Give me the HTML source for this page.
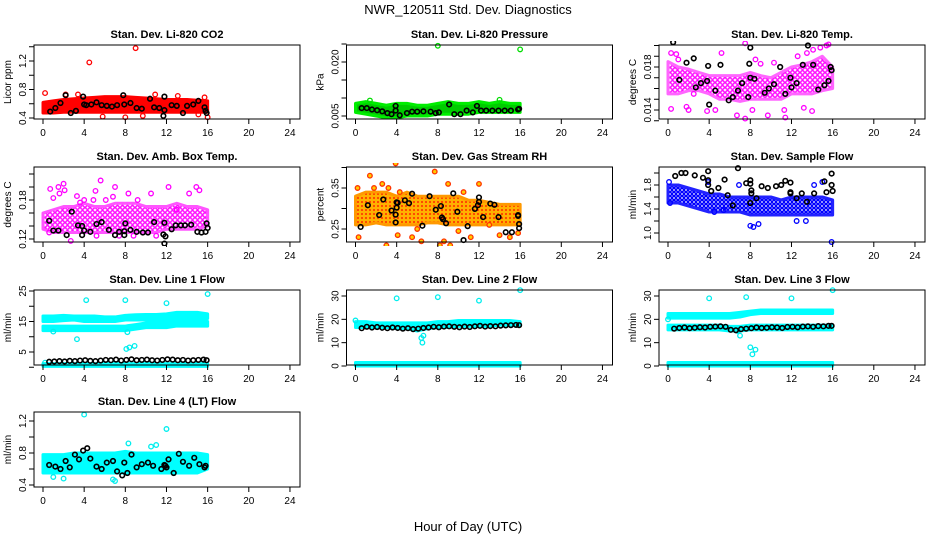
<!DOCTYPE html>
<html><head><meta charset="utf-8">
<style>
html,body{margin:0;padding:0;background:#fff;}
svg{display:block;font-family:"Liberation Sans",Arial,sans-serif;}
</style></head>
<body>
<svg id="chart" width="936" height="540" viewBox="0 0 936 540">
<defs>
<pattern id="patMag" width="5" height="5" patternUnits="userSpaceOnUse"><rect width="5" height="5" fill="#fff"/><circle cx="2.5" cy="2.5" r="1.8" fill="none" stroke="#ff00ff" stroke-width="1.4"/></pattern>
<pattern id="patBlue" width="4" height="4" patternUnits="userSpaceOnUse"><rect width="4" height="4" fill="#fff"/><circle cx="2" cy="2" r="1.6" fill="none" stroke="#0000ff" stroke-width="1.4"/></pattern>
<pattern id="patRH" width="4" height="4" patternUnits="userSpaceOnUse"><rect width="4" height="4" fill="#ffb000"/><circle cx="2" cy="2" r="0.9" fill="#ff0000"/></pattern>
</defs>
<text x="468" y="14" text-anchor="middle" font-size="13">NWR_120511  Std. Dev. Diagnostics</text>
<text x="468" y="531" text-anchor="middle" font-size="13">Hour of Day (UTC)</text>
</svg>
<script>
const bandHours=[0,1,2,3,4,5,6,7,8,9,10,11,12,13,14,15,16];
const xTicks=[0,4,8,12,16,20,24];
const lineBlackH=[0.6,1.1,1.6,2.1,2.6,3.1,3.6,4.1,4.6,5.1,5.6,6.1,6.6,7.1,7.6,8.1,8.6,9.1,9.6,10.1,10.6,11.1,11.6,12.1,12.6,13.1,13.6,14.1,14.6,15.1,15.6,15.9];

const co2Lo=[0.47,0.47,0.48,0.48,0.48,0.48,0.48,0.48,0.48,0.48,0.48,0.48,0.48,0.48,0.48,0.48,0.48];
const co2Hi=[0.62,0.64,0.66,0.67,0.68,0.69,0.70,0.70,0.70,0.69,0.68,0.67,0.66,0.66,0.66,0.65,0.64];
const co2Red=[[0.2,0.75],[4.5,1.18],[9,1.38],[5.8,0.42],[8,0.41],[9.7,0.43],[15.1,0.45],[16,0.41],[10.9,0.73],[2.2,0.73],[3.4,0.73],[13.1,0.71],[15.7,0.69]];
const co2Black=[[0.7,0.49],[1.2,0.54],[1.7,0.61],[2.2,0.72],[2.7,0.47],[3.2,0.50],[3.9,0.70],[4,0.59],[4.2,0.58],[4.7,0.59],[5.2,0.62],[5.7,0.58],[6.2,0.57],[6.7,0.56],[7.2,0.58],[7.8,0.72],[7.9,0.59],[8.5,0.61],[9.1,0.54],[9.6,0.53],[10.4,0.67],[10.8,0.55],[11.3,0.54],[11.7,0.43],[11.8,0.70],[11.8,0.51],[12.5,0.58],[13,0.57],[13.6,0.47],[14,0.57],[14.6,0.59],[15.1,0.64],[15.7,0.55],[15.8,0.50],[15.9,0.47]];

const presLo=[0.006,0.0055,0.005,0.0045,0.0045,0.005,0.005,0.005,0.0055,0.0055,0.0055,0.0055,0.006,0.006,0.006,0.006,0.006];
const presHi=[0.0085,0.009,0.0085,0.008,0.0085,0.0085,0.008,0.008,0.0085,0.009,0.0085,0.0085,0.009,0.0085,0.009,0.0085,0.0085];
const presGreen=[[8,0.0245],[16,0.0235],[14,0.0095],[1.4,0.0093]];
const presBlack=[[0.6,0.0072],[1.1,0.0072],[1.6,0.0068],[2.1,0.0066],[2.6,0.0063],[3.1,0.0058],[3.5,0.0055],[3.9,0.0078],[3.9,0.0065],[4.3,0.0052],[5,0.0058],[5.5,0.0062],[6,0.0062],[6.6,0.0063],[7.3,0.0062],[7.8,0.0058],[8.1,0.006],[9.1,0.0082],[9.6,0.0055],[10.2,0.0055],[10.8,0.0065],[11.4,0.006],[11.8,0.0078],[12.2,0.0065],[12.7,0.0065],[13.3,0.0065],[13.9,0.0065],[14.5,0.0065],[15.1,0.0065],[15.8,0.0068],[15.9,0.007]];

const tempLo=[0.0155,0.0155,0.0158,0.0158,0.0155,0.0150,0.0150,0.0148,0.0150,0.0150,0.0150,0.0150,0.0155,0.0155,0.0155,0.0158,0.0160];
const tempHi=[0.0185,0.0180,0.0178,0.0175,0.0172,0.0172,0.0172,0.0172,0.0175,0.0172,0.0170,0.0175,0.0180,0.0182,0.0185,0.0190,0.0180];
const tempMag=[[0.3,0.0193],[0.3,0.0141],[0.8,0.0192],[1.8,0.0143],[2,0.0140],[2.5,0.0155],[3.8,0.0139],[4.6,0.0140],[5.2,0.0193],[6.7,0.0135],[7.5,0.0132],[7.5,0.0202],[8.2,0.0140],[9,0.0183],[9.7,0.0135],[10.3,0.0184],[11.4,0.0133],[11.3,0.0140],[12.6,0.0190],[13.5,0.0193],[14.1,0.0196],[14.8,0.0198],[15.4,0.0200],[15.6,0.0201],[13.2,0.0142],[14,0.0139],[8.5,0.0187],[1,0.0187]];
const tempBlack=[[0.5,0.0203],[1.1,0.0168],[1.8,0.0184],[2.5,0.0188],[2.7,0.0161],[3.2,0.0165],[3.8,0.0167],[3.9,0.0181],[4,0.0145],[4.6,0.0158],[5.1,0.0182],[5.9,0.0149],[6.3,0.0152],[6.8,0.0158],[7.2,0.0165],[7.8,0.0152],[7.9,0.0183],[8,0.0198],[8,0.0170],[8.4,0.0169],[9.4,0.0156],[9.8,0.0160],[10.3,0.0164],[10.9,0.0180],[11.4,0.0155],[11.9,0.0170],[12,0.0161],[12.5,0.0165],[13.1,0.0182],[13.6,0.0200],[14.1,0.0182],[14.6,0.0159],[15.2,0.0163],[15.6,0.0167],[15.8,0.0180],[15.9,0.0177]];

const ambLo=[0.135,0.13,0.13,0.13,0.13,0.13,0.13,0.13,0.13,0.13,0.13,0.13,0.135,0.135,0.135,0.135,0.14];
const ambHi=[0.16,0.165,0.17,0.17,0.175,0.17,0.17,0.175,0.175,0.175,0.17,0.17,0.17,0.175,0.17,0.17,0.165];
const ambMag=[[0.7,0.197],[1,0.183],[0.6,0.13],[1.5,0.20],[1.6,0.19],[2,0.205],[2.1,0.195],[2.7,0.117],[3.3,0.186],[3.6,0.176],[4,0.18],[5.1,0.194],[5.2,0.125],[5.6,0.21],[6.1,0.18],[7,0.20],[7.4,0.125],[8.3,0.19],[8.8,0.125],[9.2,0.18],[10.5,0.19],[11,0.125],[12.2,0.20],[13,0.165],[14.2,0.19],[14.9,0.2],[15.2,0.195],[4.9,0.18],[6.8,0.185]];
const ambBlack=[[0.6,0.148],[1,0.133],[1.5,0.133],[2.3,0.126],[2.8,0.162],[3.4,0.141],[3.8,0.140],[3.8,0.126],[4,0.133],[4.6,0.131],[5.2,0.143],[5.7,0.146],[6.4,0.134],[7,0.126],[7.4,0.131],[7.9,0.126],[7.9,0.132],[8,0.144],[8.5,0.134],[9.1,0.131],[9.7,0.130],[10.2,0.130],[10.8,0.146],[11.7,0.127],[11.8,0.113],[11.9,0.124],[11.8,0.145],[12.5,0.135],[12.9,0.141],[13.4,0.141],[13.8,0.141],[14.4,0.142],[15,0.131],[15.4,0.130],[15.8,0.131],[15.9,0.144],[16,0.137]];

const rhLo=[0.26,0.26,0.265,0.26,0.26,0.26,0.26,0.265,0.265,0.26,0.26,0.26,0.26,0.26,0.26,0.26,0.26];
const rhHi=[0.33,0.34,0.34,0.34,0.33,0.34,0.33,0.33,0.33,0.33,0.33,0.32,0.32,0.315,0.31,0.31,0.31];
const rhOrange=[[0.2,0.35],[0.3,0.23],[1.4,0.38],[1.8,0.35],[2.6,0.36],[3.2,0.35],[3.9,0.41],[4.3,0.34],[4.1,0.235],[5.5,0.23],[6.4,0.22],[7.7,0.39],[8.2,0.21],[9,0.36],[8.6,0.22],[9.2,0.21],[10.5,0.34],[11.2,0.23],[12,0.36],[13,0.26],[15,0.23],[15.8,0.24],[3,0.21],[6,0.25],[10,0.245],[14,0.235]];
const rhBlack=[[0.5,0.255],[1.2,0.308],[2.3,0.284],[2.7,0.322],[3.5,0.295],[3.9,0.285],[3.9,0.266],[4.0,0.302],[4.0,0.315],[4.1,0.314],[4.8,0.320],[5.2,0.313],[5.5,0.336],[6.5,0.258],[7.2,0.330],[7.8,0.297],[8.3,0.306],[8.4,0.278],[8.5,0.274],[8.8,0.264],[9.5,0.337],[9.9,0.292],[10.5,0.223],[10.9,0.257],[11.6,0.299],[11.9,0.308],[12.0,0.327],[12.0,0.316],[12.4,0.279],[13.1,0.312],[13.5,0.309],[13.9,0.279],[14.6,0.242],[15.2,0.242],[15.8,0.282],[15.9,0.262],[15.9,0.252],[15.8,0.284]];

const flowLo=[1.5,1.5,1.45,1.4,1.35,1.35,1.35,1.35,1.3,1.3,1.3,1.3,1.3,1.3,1.3,1.3,1.3];
const flowHi=[1.8,1.8,1.75,1.7,1.65,1.65,1.6,1.6,1.6,1.6,1.6,1.55,1.6,1.6,1.6,1.6,1.55];
const flowBlue=[[0.1,1.85],[0.2,1.5],[8,1.12],[8.3,1.1],[8.8,1.15],[12.5,1.2],[13.4,1.2],[15.9,0.85],[4.5,1.35],[14.2,1.8],[15,1.85],[6.9,1.8],[3.9,1.85],[5.4,1.38]];
const flowBlack=[[0.7,1.95],[1.3,2.0],[1.7,2.0],[2.6,1.96],[3.4,1.92],[3.9,2.03],[3.9,1.88],[3.9,1.80],[4.9,1.75],[5.5,1.89],[5.8,1.63],[6.8,2.08],[7.6,1.83],[8,1.88],[8,1.82],[8.1,1.71],[8,1.5],[8.1,1.66],[8.6,1.58],[9.1,1.78],[9.7,1.75],[10.5,1.78],[11.0,1.8],[11.4,1.87],[11.9,1.84],[11.9,1.68],[11.9,1.66],[12.5,1.58],[13,1.66],[13.5,1.52],[14.2,1.66],[15.2,1.86],[15.4,1.68],[15.9,1.99],[15.9,1.80],[16,1.70],[6.3,1.46],[4.2,1.7]];

const l1UpLo=[15,15,15.3,15.5,15,15,15,15,15.5,15.5,15.5,15.5,15.5,16,16,16,16];
const l1UpHi=[16.8,16.8,17,16.8,16.8,16.8,16.5,16.5,17,17.2,17.3,17.3,17.5,18,18,18,17.5];
const l1LowLo=[12,12,12,12,12,12,12,12,12,12.5,13,13,13,13.5,13.5,13.5,13.5];
const l1LowHi=[13.5,13.5,13.5,13.5,13.5,13.5,13.5,13.5,13.5,14,14.5,14.5,15,15,15,15,15];
const l1BotLo=[0.3,0.3,0.3,0.3,0.3,0.3,0.3,0.3,0.3,0.3,0.3,0.3,0.3,0.3,0.3,0.3,0.3];
const l1BotHi=[1.2,1.2,1.2,1.2,1.2,1.2,1.2,1.2,1.2,1.2,1.2,1.2,1.2,1.2,1.2,1.2,1.2];
const l1Cyan=[[0.2,1.5],[4.2,22],[8,22],[12,21],[16,24],[3.3,9.2],[8.1,6],[8.4,6.5],[8.9,7],[1,11.7],[8.2,11.5]];
const l1BlackV=[1.8,1.9,2.0,1.9,2.1,2.0,2.2,2.3,2.1,2.0,2.2,2.4,2.3,2.5,2.2,2.4,2.6,2.3,2.4,2.5,2.3,2.2,2.4,2.6,2.5,2.3,2.4,2.2,2.3,2.4,2.5,2.3];

const l2Lo=[16.5,16.5,16.5,16.5,16,16,15,16,16.5,16.5,17,17,17,17,17.5,17.5,17.5];
const l2Hi=[19,19,18.5,18.5,18.5,18.5,18.5,18.5,19,19,19.5,19.5,19.5,19.5,19.5,19.5,19];
const l2BotLo=[0,0,0,0,0,0,0,0,0,0,0,0,0,0,0,0,0];
const l2BotHi=[1.5,1.5,1.5,1.5,1.5,1.5,1.5,1.5,1.5,1.5,1.5,1.5,1.5,1.5,1.5,1.5,1.5];
const l2Cyan=[[4,29],[8,29.5],[12,28],[16,32.5],[6.5,10],[6.6,13],[6.4,12],[0,19.5]];
const l2BlackV=[16.2,16.8,16.5,16.7,16.4,16.2,16.5,16.3,16.0,16.2,15.8,16.0,16.3,16.5,16.8,16.6,16.9,17.0,16.8,16.6,16.9,16.7,17.0,17.2,16.9,17.1,17.0,17.3,17.4,17.5,17.6,17.5];

const l3UpLo=[20.5,20.5,20.5,20.5,20.5,20.5,20.5,21,22,22.5,22.5,22.5,22.5,22.5,22.5,22.5,22.5];
const l3UpHi=[22.5,22.5,22.5,22.5,22.5,22.5,22.5,23,23.5,24,24,24,24,24,24,24,24];
const l3LowLo=[15.5,15.5,15.5,15.5,15.5,15.5,15,15,15.5,15.5,15.5,15.5,15.5,15.5,15.5,15.5,15.5];
const l3LowHi=[17.5,17.5,17.5,17.5,17.5,17.5,17,17,17.5,17.5,17.5,17.5,17.5,17.5,17.5,17.5,17.5];
const l3Cyan=[[4,29],[7.6,29.5],[12,29],[16,32.5],[8,8],[8.5,7],[8.2,5],[7,13],[6.8,15],[0,20]];
const l3BlackV=[16.0,16.3,16.5,16.2,16.4,16.6,16.5,16.8,16.9,17.0,16.8,15.5,15.3,15.8,16.0,16.2,16.5,16.3,16.4,16.6,16.5,16.3,16.7,16.8,16.6,16.9,17.0,16.8,17.1,17.0,17.2,17.2];

const l4Lo=[0.55,0.55,0.55,0.55,0.55,0.55,0.55,0.55,0.55,0.55,0.55,0.55,0.55,0.55,0.55,0.55,0.6];
const l4Hi=[0.78,0.78,0.78,0.8,0.8,0.8,0.8,0.8,0.82,0.8,0.8,0.8,0.8,0.8,0.8,0.8,0.78];
const l4Cyan=[[4,1.28],[12,1.1],[7,0.45],[6.8,0.47],[8.3,0.92],[10.5,0.88],[11,0.9],[1,0.5],[2,0.48]];
const l4Black=[[0.6,0.65],[1.2,0.63],[1.7,0.60],[2.2,0.7],[2.6,0.62],[3.1,0.78],[3.5,0.72],[3.9,0.83],[4.3,0.86],[4.6,0.73],[5.2,0.63],[5.7,0.60],[6.2,0.68],[6.8,0.70],[7.2,0.57],[7.7,0.52],[7.9,0.68],[8.2,0.55],[8.6,0.78],[9.1,0.62],[9.6,0.66],[10.2,0.68],[10.7,0.64],[11.5,0.6],[11.8,0.65],[11.9,0.64],[12,0.62],[12.2,0.72],[12.7,0.55],[13.2,0.79],[13.6,0.69],[14.2,0.64],[14.7,0.74],[15.2,0.66],[15.7,0.62],[15.8,0.64]];

const NS='http://www.w3.org/2000/svg';
const svg=document.getElementById('chart');
function mk(tag,attrs,parent){const e=document.createElementNS(NS,tag);for(const k in attrs)e.setAttribute(k,attrs[k]);(parent||svg).appendChild(e);return e;}

const colX=[34,346.5,659];
const rowY=[[45,119],[167,242],[290,365],[412,487]];

function panel(cfg){
  const L=colX[cfg.col],R=L+266,T=rowY[cfg.row][0],B=rowY[cfg.row][1];
  const g=mk('g',{});
  
  
  const xs=h=>L+9+h*10.29;
  const ys=v=>cfg.y0+(v-cfg.v0)*(cfg.y1-cfg.y0)/(cfg.v1-cfg.v0);
  const clipId='c'+cfg.name;
  const cp=mk('clipPath',{id:clipId},g);mk('rect',{x:L,y:T-4,width:R-L,height:B-T+8},cp);
  const plot=mk('g',{'clip-path':'url(#'+clipId+')'},g);
  // bands
  (cfg.bands||[]).forEach(b=>{
    let pts=bandHours.map((h,i)=>xs(h)+','+ys(b.hi[i]));
    pts=pts.concat(bandHours.slice().reverse().map((h,j)=>{const i=bandHours.length-1-j;return xs(h)+','+ys(b.lo[i]);}));
    const p=mk('polygon',{points:pts.join(' '),fill:b.fill,stroke:b.edge,'stroke-width':3,'stroke-linejoin':'round'},plot);
    
    
  });
  (cfg.pts||[]).forEach(s=>{
    s.data.forEach(d=>{
      const c=mk('circle',{cx:xs(d[0]),cy:ys(d[1]),r:2.3,fill:s.fill||'none',stroke:s.color,'stroke-width':s.sw||1.3},plot);
      
      
    });
  });
  // box
  const box=mk('rect',{x:L,y:T,width:R-L,height:B-T,fill:'none',stroke:'#000','stroke-width':1},g);
  
  
  // x axis
  xTicks.forEach(t=>{
    mk('line',{x1:xs(t),x2:xs(t),y1:B,y2:B+5,stroke:'#000'},g);
    const tx=mk('text',{x:xs(t),y:B+17,'text-anchor':'middle','font-size':10},g);tx.textContent=t;
    
    
  });
  mk('line',{x1:xs(0),x2:xs(24),y1:B,y2:B,stroke:'#000'},g);
  // y axis
  cfg.yTicks.forEach(t=>{mk('line',{x1:L-5,x2:L,y1:ys(t),y2:ys(t),stroke:'#000'},g);});
  cfg.yLabels.forEach(t=>{
    const tx=mk('text',{x:L-8,y:ys(t),'text-anchor':'middle','font-size':10,transform:'rotate(-90 '+(L-8)+' '+ys(t)+')'},g);
    tx.textContent=t;
    
    
  });
  const yt=mk('text',{x:L-23,y:(T+B)/2,'text-anchor':'middle','font-size':10,transform:'rotate(-90 '+(L-23)+' '+((T+B)/2)+')'},g);
  yt.textContent=cfg.ylab;
  
  
  const ti=mk('text',{x:(L+R)/2,y:T-7,'text-anchor':'middle','font-size':11,'font-weight':'bold'},g);
  ti.textContent=cfg.title;
  
  
}
const blk=arr=>({color:'#000',data:arr,sw:1.6});
const zipH=v=>v.map((y,i)=>[lineBlackH[i],y]);

panel({name:'panel-co2',col:0,row:0,title:'Stan. Dev. Li-820 CO2',ylab:'Licor ppm',v0:0.4,y0:118,v1:1.2,y1:61,yTicks:[0.4,0.6,0.8,1.0,1.2,1.4],yLabels:['0.4','0.8','1.2'],
 bands:[{lo:co2Lo,hi:co2Hi,fill:'#ff0000',edge:'#ff0000'}],pts:[{color:'#ff0000',data:co2Red},blk(co2Black)]});
panel({name:'panel-pressure',col:1,row:0,title:'Stan. Dev. Li-820 Pressure',ylab:'kPa',v0:0.005,y0:116,v1:0.020,y1:62,yTicks:[0.005,0.010,0.015,0.020,0.025],yLabels:['0.005','0.020'],
 bands:[{lo:presLo,hi:presHi,fill:'#00cc00',edge:'#00ee00'}],pts:[{color:'#00dd00',data:presGreen},blk(presBlack)]});
panel({name:'panel-temp',col:2,row:0,title:'Stan. Dev. Li-820 Temp.',ylab:'degrees C',v0:0.014,y0:110,v1:0.018,y1:67,yTicks:[0.013,0.014,0.015,0.016,0.017,0.018,0.019,0.020],yLabels:['0.014','0.018'],
 bands:[{lo:tempLo,hi:tempHi,fill:'url(#patMag)',edge:'#ff66ff'}],pts:[{color:'#ff00ff',data:tempMag},blk(tempBlack)]});
panel({name:'panel-amb-temp',col:0,row:1,title:'Stan. Dev. Amb. Box Temp.',ylab:'degrees C',v0:0.12,y0:239,v1:0.18,y1:200,yTicks:[0.12,0.14,0.16,0.18,0.20,0.22],yLabels:['0.12','0.18'],
 bands:[{lo:ambLo,hi:ambHi,fill:'url(#patMag)',edge:'#ff55ff'}],pts:[{color:'#ff00ff',data:ambMag},blk(ambBlack)]});
panel({name:'panel-rh',col:1,row:1,title:'Stan. Dev. Gas Stream RH',ylab:'percent',v0:0.25,y0:229,v1:0.35,y1:188,yTicks:[0.25,0.30,0.35,0.40],yLabels:['0.25','0.35'],
 bands:[{lo:rhLo,hi:rhHi,fill:'url(#patRH)',edge:'#ff9900'}],pts:[{color:'#ff3300',fill:'#ffcc00',data:rhOrange},blk(rhBlack)]});
panel({name:'panel-sample-flow',col:2,row:1,title:'Stan. Dev. Sample Flow',ylab:'ml/min',v0:1.0,y0:233,v1:1.8,y1:185,yTicks:[1.0,1.2,1.4,1.6,1.8,2.0],yLabels:['1.0','1.4','1.8'],
 bands:[{lo:flowLo,hi:flowHi,fill:'url(#patBlue)',edge:'#2222ff'}],pts:[{color:'#0000ff',data:flowBlue},blk(flowBlack)]});
panel({name:'panel-line1',col:0,row:2,title:'Stan. Dev. Line 1 Flow',ylab:'ml/min',v0:5,y0:352,v1:25,y1:291,yTicks:[0,5,10,15,20,25],yLabels:['5','15','25'],
 bands:[{lo:l1UpLo,hi:l1UpHi,fill:'#00ffff',edge:'#00ffff'},{lo:l1LowLo,hi:l1LowHi,fill:'#00ffff',edge:'#00ffff'},{lo:l1BotLo,hi:l1BotHi,fill:'#00ffff',edge:'#00ffff'}],
 pts:[{color:'#00eeee',data:l1Cyan},blk(zipH(l1BlackV))]});
panel({name:'panel-line2',col:1,row:2,title:'Stan. Dev. Line 2 Flow',ylab:'ml/min',v0:0,y0:366,v1:30,y1:296,yTicks:[0,10,20,30],yLabels:['0','10','20','30'],
 bands:[{lo:l2Lo,hi:l2Hi,fill:'#00ffff',edge:'#00ffff'},{lo:l2BotLo,hi:l2BotHi,fill:'#00ffff',edge:'#00ffff'}],
 pts:[{color:'#00eeee',data:l2Cyan},blk(zipH(l2BlackV))]});
panel({name:'panel-line3',col:2,row:2,title:'Stan. Dev. Line 3 Flow',ylab:'ml/min',v0:0,y0:366,v1:30,y1:296,yTicks:[0,10,20,30],yLabels:['0','10','20','30'],
 bands:[{lo:l3UpLo,hi:l3UpHi,fill:'#00ffff',edge:'#00ffff'},{lo:l3LowLo,hi:l3LowHi,fill:'#00ffff',edge:'#00ffff'},{lo:l2BotLo,hi:l2BotHi,fill:'#00ffff',edge:'#00ffff'}],
 pts:[{color:'#00eeee',data:l3Cyan},blk(zipH(l3BlackV))]});
panel({name:'panel-line4',col:0,row:3,title:'Stan. Dev. Line 4 (LT) Flow',ylab:'ml/min',v0:0.4,y0:485,v1:1.2,y1:421,yTicks:[0.4,0.6,0.8,1.0,1.2],yLabels:['0.4','0.8','1.2'],
 bands:[{lo:l4Lo,hi:l4Hi,fill:'#00ffff',edge:'#00ffff'}],pts:[{color:'#00eeee',data:l4Cyan},blk(l4Black)]});
</script>
</body></html>
